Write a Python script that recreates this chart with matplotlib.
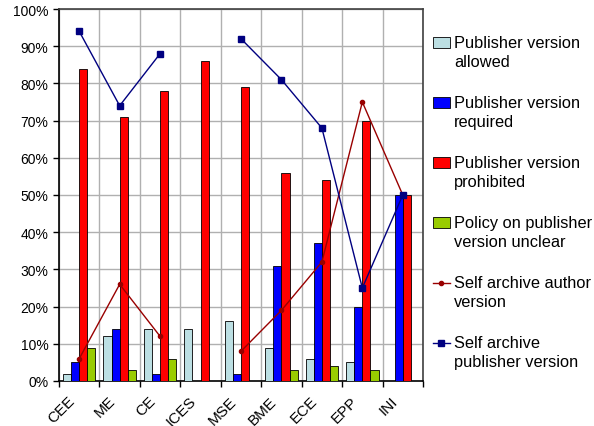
import numpy as np
import matplotlib
matplotlib.use("Agg")
import matplotlib.pyplot as plt
from matplotlib.ticker import FuncFormatter, MultipleLocator
from matplotlib.transforms import Affine2D, ScaledTranslation
from matplotlib.legend_handler import HandlerPatch, HandlerLine2D

plt.rcParams['font.family'] = ['Liberation Sans', 'DejaVu Sans']

categories = ["CEE", "ME", "CE", "ICES", "MSE", "BME", "ECE", "EPP", "INI"]

pub_allowed = [2, 12, 14, 14, 16, 9, 6, 5, 0]
pub_required = [5, 14, 2, 0, 2, 31, 37, 20, 50]
pub_prohibited = [84, 71, 78, 86, 79, 56, 54, 70, 50]
policy_unclear = [9, 3, 6, 0, 0, 3, 4, 3, 0]
self_author = [6, 26, 12, np.nan, 8, 19, 32, 75, 50]
self_publisher = [94, 74, 88, np.nan, 92, 81, 68, 25, 50]

bar_series = [
    (pub_allowed, "Publisher version\nallowed", "#BCDFE3"),
    (pub_required, "Publisher version\nrequired", "#0000FF"),
    (pub_prohibited, "Publisher version\nprohibited", "#FF0000"),
    (policy_unclear, "Policy on publisher\nversion unclear", "#99CC00"),
]

LEG_FS = 11.8
LINE_SHIFT = 6.9  # points: lifts legend keys to the first line of each label


class TopPatch(HandlerPatch):
    def create_artists(self, legend, orig_handle, xdescent, ydescent,
                       width, height, fontsize, trans):
        t = Affine2D().translate(0, LINE_SHIFT) + trans
        return super().create_artists(legend, orig_handle, xdescent, ydescent,
                                      width, height, fontsize, t)


class TopLine(HandlerLine2D):
    def create_artists(self, legend, orig_handle, xdescent, ydescent,
                       width, height, fontsize, trans):
        t = Affine2D().translate(0, LINE_SHIFT) + trans
        return super().create_artists(legend, orig_handle, xdescent, ydescent,
                                      width, height, fontsize, t)


fig = plt.figure(figsize=(5.94, 4.27), dpi=100)
ax = fig.add_axes([59 / 594, 1 - 382 / 427, 364 / 594, 372 / 427])

x = np.arange(len(categories))
bw = 0.2
bars = []
for i, (vals, label, color) in enumerate(bar_series):
    b = ax.bar(x + (i - 1.5) * bw, vals, width=bw, color=color,
               edgecolor="black", linewidth=0.6, label=label, zorder=3)
    bars.append(b)

l1, = ax.plot(x, self_author, color="#990000", linewidth=1.0, marker="o",
              markersize=3, label="Self archive author\nversion", zorder=4)
l2, = ax.plot(x, self_publisher, color="#000080", linewidth=1.0, marker="s",
              markersize=4, label="Self archive\npublisher version", zorder=4)

ax.set_xlim(-0.5, len(categories) - 0.5)
ax.set_ylim(0, 100)
ax.yaxis.set_major_locator(MultipleLocator(10))
ax.yaxis.set_major_formatter(FuncFormatter(lambda v, p: f"{v:.0f}%"))

ax.set_xticks(x)
ax.set_xticklabels(categories, rotation=45, ha="right", va="center",
                   rotation_mode="anchor", fontsize=11)
ax.tick_params(axis="x", length=0, pad=12.5)
ax.set_xticks(np.arange(len(categories) + 1) - 0.5, minor=True)
ax.tick_params(axis="x", which="minor", length=4, width=1)
ax.tick_params(axis="y", length=4, width=1, labelsize=10)

ax.grid(True, axis="y", color="#B0B0B0", linewidth=1.0, zorder=0)
ax.grid(True, axis="x", which="minor", color="#B0B0B0", linewidth=1.0, zorder=0)
ax.set_axisbelow(True)

for side in ["left", "bottom"]:
    ax.spines[side].set_linewidth(1.2)
    ax.spines[side].set_color("black")
for side in ["top", "right"]:
    ax.spines[side].set_linewidth(1.2)
    ax.spines[side].set_color("#404040")

bar_keys = [b.patches[0] for b in bars]
handles = bar_keys + [l1, l2]
labels = [s[1] for s in bar_series] + [l1.get_label(), l2.get_label()]
hmap = {k: TopPatch() for k in bar_keys}
hmap.update({l1: TopLine(), l2: TopLine()})
leg = fig.legend(handles, labels, handler_map=hmap,
                 loc="upper left", bbox_to_anchor=(433 / 594, 1 - 36 / 427),
                 frameon=False, fontsize=LEG_FS, handlelength=1.03,
                 handleheight=0.7, handletextpad=0.25, labelspacing=1.58,
                 borderpad=0, borderaxespad=0)
for t in leg.get_texts():
    t.set_linespacing(1.34)

# nudge the slanted category names a little to the left of their ticks
fig.canvas.draw()
nudge = ScaledTranslation(-7 / 100, 0, fig.dpi_scale_trans)
for tick in ax.xaxis.get_major_ticks():
    tick.label1.set_transform(tick.label1.get_transform() + nudge)

fig.savefig("out.png", dpi=100)
